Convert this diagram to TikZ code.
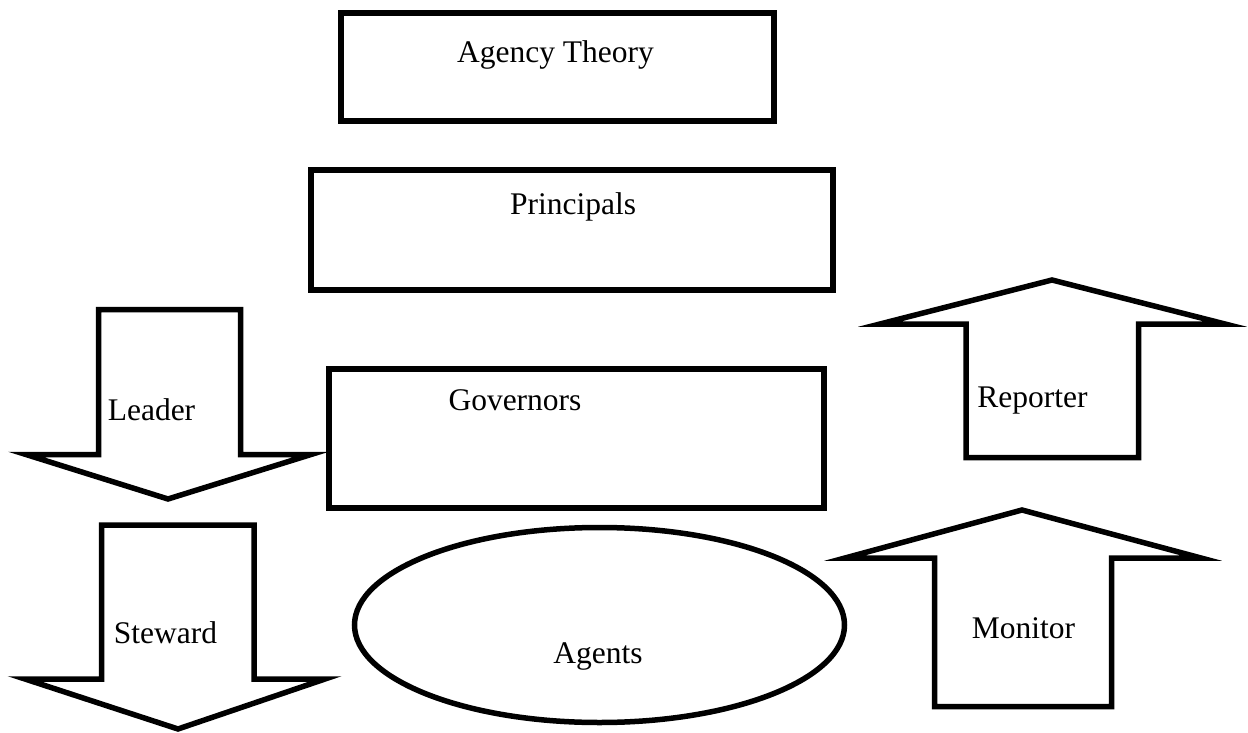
\documentclass[tikz,border=0pt]{standalone}
\usepackage{fontspec}
\setmainfont{Liberation Serif}
\begin{document}
\begin{tikzpicture}[x=1pt,y=-1pt,
  boxline/.style={draw=black,line width=6.5pt,line join=miter},
  shapeline/.style={draw=black,line width=5.5pt,line join=miter,miter limit=12},
  label/.style={anchor=base,inner sep=0pt,font=\fontsize{31.5}{37}\selectfont}]
\useasboundingbox[fill=white] (0,0) rectangle (1248,733);

% boxes
\draw[boxline] (341,13) rectangle (774,121);
\draw[boxline] (311,170) rectangle (833,290);
\draw[boxline] (329,369) rectangle (824,508);
\draw[shapeline] (599.5,625) ellipse [x radius=245, y radius=97.5];

% downward block arrows
\draw[shapeline] (98.5,309.5) -- (240.5,309.5) -- (240.5,454.5) -- (311,454.5)
  -- (168,499) -- (26,454.5) -- (98.5,454.5) -- cycle;
\draw[shapeline] (101.5,525) -- (254,525) -- (254,679) -- (325,679)
  -- (178,729) -- (25,679) -- (101.5,679) -- cycle;

% upward block arrows
\draw[shapeline] (966,457.5) -- (966,324) -- (880,324) -- (1052,280)
  -- (1225,324) -- (1138.5,324) -- (1138.5,457.5) -- cycle;
\draw[shapeline] (934.5,706.5) -- (934.5,558) -- (845,558) -- (1022,510)
  -- (1201,558) -- (1111.5,558) -- (1111.5,706.5) -- cycle;

% texts
\node[label] (agency) at (555.5,63) {Agency Theory};
\node[label] (principals) at (573,214) {Principals};
\node[label] (governors) at (515,410) {Governors};
\node[label] (agents) at (598,663) {Agents};
\node[label] (leader) at (151.5,420) {Leader};
\node[label] (steward) at (165.5,643) {Steward};
\node[label] (reporter) at (1032.5,407) {Reporter};
\node[label] (monitor) at (1023.5,638) {Monitor};
\end{tikzpicture}
\end{document}
